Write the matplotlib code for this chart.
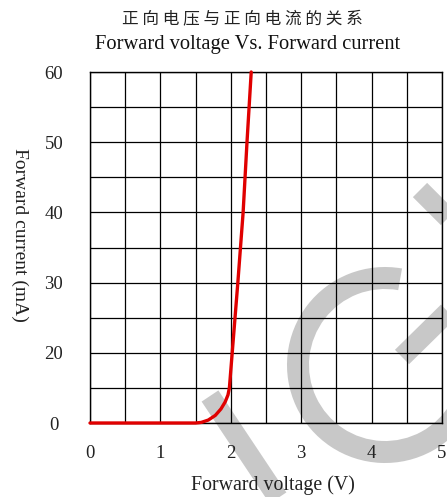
import matplotlib
matplotlib.use("Agg")
import matplotlib.pyplot as plt
from matplotlib.patches import Wedge
from matplotlib.lines import Line2D

# curve (V, mA on a linear 0-60 scale)
voltage = [0.0, 1.50, 1.58, 1.68, 1.78, 1.86, 1.92, 1.96, 1.98, 2.02, 2.10, 2.175, 2.23, 2.29]
current = [0.0, 0.0, 0.1, 0.5, 1.3, 2.4, 3.6, 4.8, 6.0, 12.0, 24.0, 36.0, 48.0, 60.0]

x_ticks = [0, 1, 2, 3, 4, 5]
y_tick_pos = [0, 12, 24, 36, 48, 60]
y_tick_labels = ["0", "20", "30", "40", "50", "60"]

title_cn = "正向电压与正向电流的关系"
title_en = "Forward voltage Vs. Forward current"
xlabel = "Forward voltage (V)"
ylabel = "Forward current (mA)"

serif = ["Liberation Serif", "DejaVu Serif"]

W, H = 447, 497
fig = plt.figure(figsize=(W / 100, H / 100), dpi=100)

# watermark in pixel space, behind everything
bg = fig.add_axes([0, 0, 1, 1], zorder=-1)
bg.set_xlim(0, W)
bg.set_ylim(H, 0)
bg.axis("off")
wm = "#c8c8c8"
bg.add_line(Line2D([210, 290], [396, 516], color=wm, lw=14.5, solid_capstyle="butt"))
bg.add_line(Line2D([420, 470], [190, 240], color=wm, lw=14.5, solid_capstyle="butt"))
bg.add_line(Line2D([402, 460], [357, 300], color=wm, lw=14.5, solid_capstyle="butt"))
bg.add_patch(Wedge((385, 365), 98, 30, 280, width=22, color=wm, lw=0))

ax = fig.add_axes([90 / W, 1 - 423 / H, 352 / W, 351 / H])
ax.set_facecolor("none")
ax.plot(voltage, current, color="#e00000", lw=2.4, solid_capstyle="round", zorder=3, clip_on=False)

ax.set_xlim(0, 5)
ax.set_ylim(0, 60)
ax.set_xticks([i * 0.5 for i in range(11)], minor=True)
ax.set_yticks([i * 6 for i in range(11)], minor=True)
ax.set_xticks(x_ticks)
ax.set_xticklabels([str(v) for v in x_ticks])
ax.set_yticks(y_tick_pos)
ax.set_yticklabels(y_tick_labels)
ax.grid(True, which="both", color="black", lw=0.9)
ax.tick_params(which="both", length=0)
ax.tick_params(axis="x", pad=16)
ax.tick_params(axis="y", pad=26)
for lab in ax.get_xticklabels() + ax.get_yticklabels():
    lab.set_fontfamily(serif)
    lab.set_fontsize(13.5)
    lab.set_color("#222222")
for lab in ax.get_yticklabels():
    lab.set_horizontalalignment("center")
for s in ax.spines.values():
    s.set_color("black")
    s.set_linewidth(1)

fig.text(242 / W, 1 - 19 / H, " ".join(title_cn), ha="center", va="center", fontsize=12,
         family=["Noto Sans CJK SC", "DejaVu Sans"], color="#222222")
fig.text(248 / W, 1 - 45 / H, title_en, ha="center", va="center", fontsize=14.8,
         family=serif, color="#111111")
fig.text(273 / W, 1 - 485 / H, xlabel, ha="center", va="center", fontsize=14.3,
         family=serif, color="#222222")
fig.text(20 / W, 1 - 235 / H, ylabel, ha="center", va="center", rotation=-90,
         fontsize=14, family=serif, color="#222222")

fig.savefig("out.png", dpi=100)
